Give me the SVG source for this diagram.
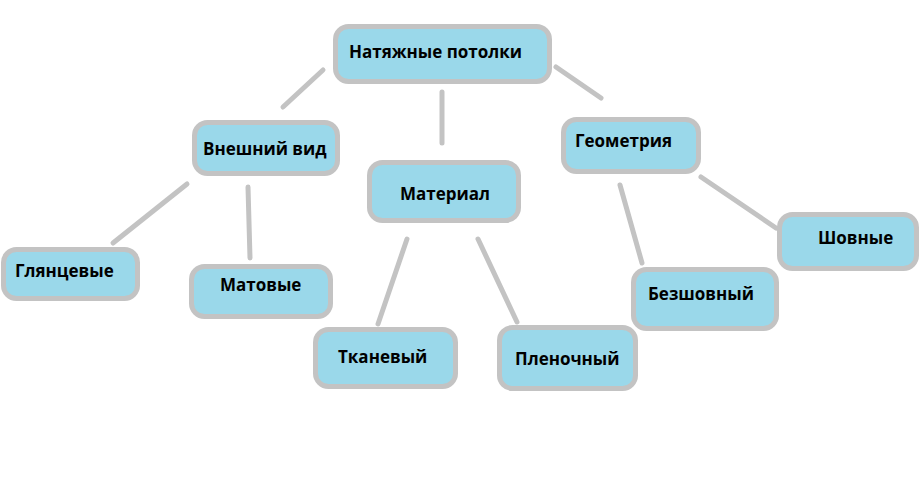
<svg xmlns="http://www.w3.org/2000/svg" width="921" height="501" viewBox="0 0 921 501">
<style>
.box{fill:#9ad8ea;stroke:#c3c3c3;stroke-width:5}
.lbl{font-family:"Open Sans","Liberation Sans",sans-serif;font-weight:700;font-size:17px;fill:#000}
.con{stroke:#c3c3c3;stroke-width:5;stroke-linecap:round;fill:none}
</style>
<rect width="921" height="501" fill="#fff"/>
<g id="connectors">
<line class="con" x1="323" y1="70" x2="283" y2="107"/>
<line class="con" x1="442" y1="92" x2="442" y2="143"/>
<line class="con" x1="556" y1="67" x2="601" y2="98"/>
<line class="con" x1="187" y1="184" x2="113" y2="243"/>
<line class="con" x1="248" y1="187" x2="250" y2="258"/>
<line class="con" x1="407" y1="239" x2="378" y2="324"/>
<line class="con" x1="478" y1="239" x2="517" y2="322"/>
<line class="con" x1="620" y1="185" x2="642" y2="263"/>
<line class="con" x1="701" y1="177" x2="776" y2="228"/>
</g>
<g id="n-root"><rect class="box" x="335.5" y="26.5" width="214" height="55" rx="13"/><text class="lbl" x="349" y="58">Натяжные потолки</text></g>
<g id="n-vid"><rect class="box" x="194.5" y="122.5" width="143" height="51" rx="13"/><text class="lbl" x="203" y="155">Внешний вид</text></g>
<g id="n-material"><rect class="box" x="369.5" y="162.5" width="149" height="58" rx="13"/><text class="lbl" x="400" y="200">Материал</text></g>
<g id="n-geom"><rect class="box" x="563.5" y="119.5" width="135" height="52" rx="13"/><text class="lbl" x="575" y="147">Геометрия</text></g>
<g id="n-glyan"><rect class="box" x="3.5" y="249.5" width="134" height="49" rx="13"/><text class="lbl" x="15" y="277">Глянцевые</text></g>
<g id="n-mat"><rect class="box" x="191.5" y="266.5" width="139" height="50" rx="13"/><text class="lbl" x="220" y="291">Матовые</text></g>
<g id="n-tkan"><rect class="box" x="315.5" y="329.5" width="140" height="57" rx="13"/><text class="lbl" x="338" y="363">Тканевый</text></g>
<g id="n-plen"><rect class="box" x="499.5" y="327.5" width="136" height="61" rx="13"/><text class="lbl" x="515" y="365">Пленочный</text></g>
<g id="n-bezsh"><rect class="box" x="633.5" y="269.5" width="143" height="59" rx="13"/><text class="lbl" x="648" y="300">Безшовный</text></g>
<g id="n-shov"><rect class="box" x="779.5" y="214.5" width="137" height="54" rx="13"/><text class="lbl" x="818" y="244">Шовные</text></g>
</svg>
